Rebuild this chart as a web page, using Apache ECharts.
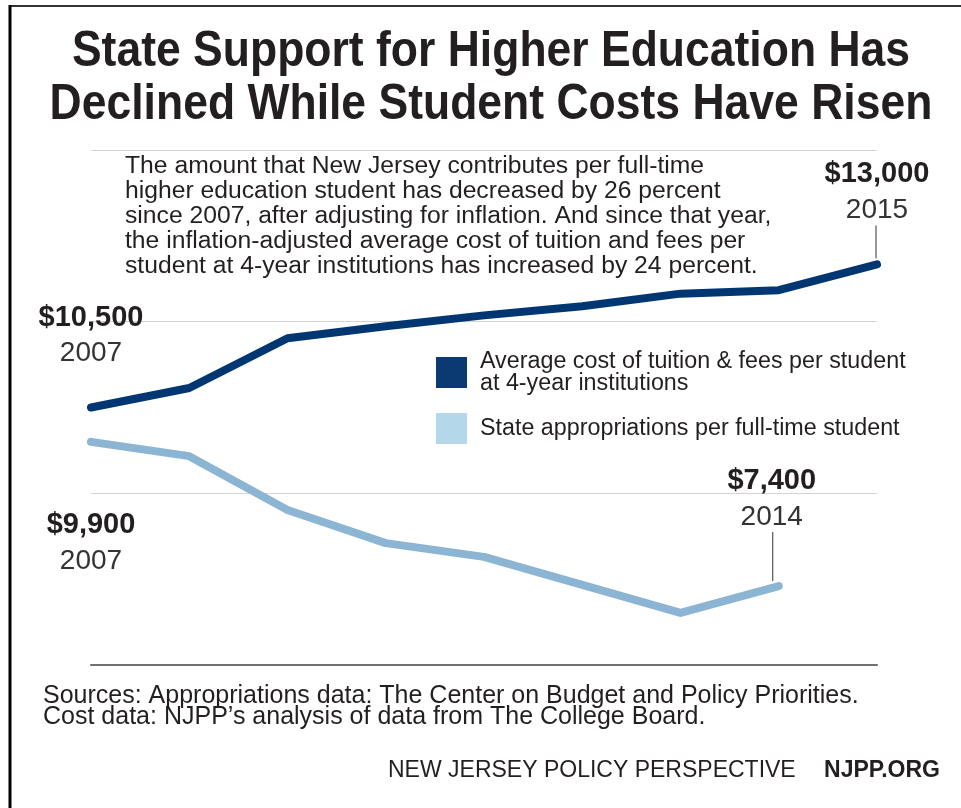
<!DOCTYPE html>
<html>
<head>
<meta charset="utf-8">
<script src="https://cdn.jsdelivr.net/npm/echarts@6/dist/echarts.min.js"></script>
<style>html,body{margin:0;padding:0;background:#fff;}#c{width:961px;height:808px;}</style>
</head>
<body>
<div id="c"></div>
<script>
// ---- data ----
const years = ['2007', '2008', '2009', '2010', '2011', '2012', '2013', '2014', '2015'];
const tuition = [10500, 10840, 11710, 11920, 12110, 12270, 12490, 12550, 13000];
const appropriations = [9900, 9650, 8710, 8130, 7890, 7400, 6910, 7380];
const seriesNames = ['Average cost of tuition & fees per student at 4-year institutions', 'State appropriations per full-time student'];
const legendLabels = ['Average cost of tuition & fees per student\nat 4-year institutions', 'State appropriations per full-time student'];
const yMin = 6000, yMax = 15000, yStep = 3000;
const titleText = 'State Support for Higher Education Has\nDeclined While Student Costs Have Risen';
const noteText = 'The amount that New Jersey contributes per full-time\nhigher education student has decreased by 26 percent\nsince 2007, after adjusting for inflation. And since that year,\nthe inflation-adjusted average cost of tuition and fees per\nstudent at 4-year institutions has increased by 24 percent.';
const sourceText = 'Sources: Appropriations data: The Center on Budget and Policy Priorities.\nCost data: NJPP\u2019s analysis of data from The College Board.';
const brandText = 'NEW JERSEY POLICY PERSPECTIVE';
const brandUrl = 'NJPP.ORG';

const FONT = 'Liberation Sans, Arial, Helvetica, sans-serif';
const DARK = '#003672';
const LIGHT = '#8bb5d3';
const TXT = '#231f20';

function fmt(v) {
  const r = Math.round(v / 100) * 100;
  return '$' + r.toLocaleString('en-US');
}
const rich = {
  v: { fontFamily: FONT, fontWeight: 'bold', fontSize: 29, color: TXT, lineHeight: 36, align: 'center' },
  y: { fontFamily: FONT, fontSize: 28, color: '#333', lineHeight: 36, align: 'center' }
};
function withLabels(arr, cats, first, last) {
  return arr.map((v, i) => {
    let cfg = null;
    if (i === 0) cfg = first;
    if (i === arr.length - 1) cfg = last;
    if (!cfg) return v;
    return {
      value: v,
      label: Object.assign({
        show: true,
        formatter: '{v|' + fmt(v) + '}\n{y|' + cats[i] + '}',
        rich: rich
      }, cfg)
    };
  });
}

const chart = echarts.init(document.getElementById('c'));
chart.setOption({
  animation: false,
  backgroundColor: '#fff',
  legend: {
    orient: 'vertical', left: 436, top: 350, padding: 0,
    icon: 'rect', itemWidth: 31, itemHeight: 31, itemGap: 18,
    selectedMode: false,
    formatter: name => legendLabels[seriesNames.indexOf(name)],
    textStyle: { fontFamily: FONT, fontSize: 23.3, lineHeight: 22, color: TXT, padding: [0, 0, 0, 8] },
    data: [
      { name: seriesNames[0], itemStyle: { color: '#0b3a73' } },
      { name: seriesNames[1], itemStyle: { color: '#b4d7e9' } }
    ]
  },
  grid: { left: 91, right: 84, top: 150, bottom: 143 },
  xAxis: {
    type: 'category', data: years, boundaryGap: false,
    axisLine: { show: true, lineStyle: { color: '#707070', width: 2 } },
    axisTick: { show: false }, axisLabel: { show: false }
  },
  yAxis: {
    type: 'value', min: yMin, max: yMax, interval: yStep,
    axisLine: { show: false }, axisTick: { show: false }, axisLabel: { show: false },
    splitLine: { lineStyle: { color: '#d4d4d4', width: 1 } }
  },
  series: [
    {
      name: seriesNames[0], type: 'line', color: DARK,
      data: withLabels(tuition, years,
        { position: 'top', distance: 35 },
        { position: 'top', distance: 35 }),
      symbol: 'circle', symbolSize: 2, showSymbol: true,
      itemStyle: { color: DARK },
      lineStyle: { color: DARK, width: 8, cap: 'round', join: 'round' },
      z: 3
    },
    {
      name: seriesNames[1], type: 'line', color: LIGHT,
      data: withLabels(appropriations, years,
        { position: 'bottom', distance: 64 },
        { position: 'top', distance: 50, offset: [-7, 0] }),
      symbol: 'circle', symbolSize: 2, showSymbol: true,
      itemStyle: { color: LIGHT },
      lineStyle: { color: LIGHT, width: 8, cap: 'round', join: 'round' },
      z: 2
    }
  ]
});

// leader lines from the end points to their labels (positions from the chart's own scales)
const pEnd1 = chart.convertToPixel({ seriesIndex: 0 }, [years.length - 1, tuition[tuition.length - 1]]);
const pEnd2 = chart.convertToPixel({ seriesIndex: 1 }, [appropriations.length - 1, appropriations[appropriations.length - 1]]);
chart.setOption({
  graphic: [
    { id: 'bt', type: 'line', shape: { x1: 9, y1: 6, x2: 961, y2: 6 }, style: { stroke: '#333', lineWidth: 2 }, silent: true },
    { id: 'bl', type: 'line', shape: { x1: 10, y1: 5, x2: 10, y2: 808 }, style: { stroke: '#000', lineWidth: 3 }, silent: true },
    { id: 'title', type: 'text', x: 491, y: 26, scaleX: 0.89,
      style: { text: titleText, fontFamily: FONT, fontWeight: 'bold', fontSize: 50, lineHeight: 53, fill: TXT, textAlign: 'center' } },
    { id: 'note', type: 'text', left: 125, top: 154, style: { text: noteText, fontFamily: FONT, fontSize: 24.7, lineHeight: 25, fill: TXT }, z: 10 },
    { id: 'src', type: 'text', left: 43, top: 684, style: { text: sourceText, fontFamily: FONT, fontSize: 25, lineHeight: 21, fill: TXT } },
    { id: 'brand', type: 'text', left: 388, top: 759, style: { text: brandText, fontFamily: FONT, fontSize: 23, fill: TXT } },
    { id: 'url', type: 'text', right: 21, top: 759, style: { text: brandUrl, fontFamily: FONT, fontWeight: 'bold', fontSize: 23, fill: TXT } },
    { id: 'lead1', type: 'line', shape: { x1: pEnd1[0] - 1, y1: pEnd1[1] - 6, x2: pEnd1[0] - 1, y2: pEnd1[1] - 39 }, style: { stroke: '#333', lineWidth: 1 } },
    { id: 'lead2', type: 'line', shape: { x1: pEnd2[0] - 6, y1: pEnd2[1] - 5, x2: pEnd2[0] - 6, y2: pEnd2[1] - 54 }, style: { stroke: '#333', lineWidth: 1 } }
  ]
});
</script>
</body>
</html>
